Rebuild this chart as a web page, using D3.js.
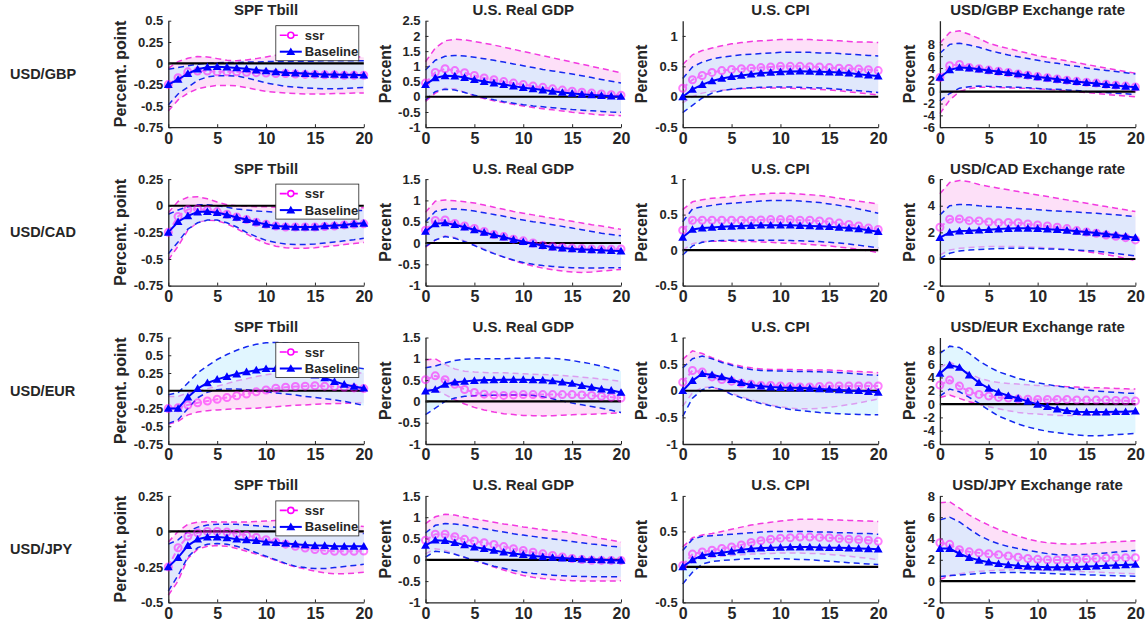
<!DOCTYPE html>
<html>
<head>
<meta charset="utf-8">
<script src="https://cdn.jsdelivr.net/npm/d3@7/dist/d3.min.js"></script>
<style>
  body { margin: 0; background: #fff; }
  svg { display: block; }
  text { font-family: "Liberation Sans", Arial, Helvetica, sans-serif; font-weight: bold; fill: #262626; }
</style>
</head>
<body>
<svg id="chart" width="1146" height="628"></svg>
<script>
// Impulse-response horizons (quarters)
const horizons = [0,1,2,3,4,5,6,7,8,9,10,11,12,13,14,15,16,17,18,19,20];
const xTicks = [0,5,10,15,20];

const rowNames = ["USD/GBP", "USD/CAD", "USD/EUR", "USD/JPY"];
const varTitles = ["SPF Tbill", "U.S. Real GDP", "U.S. CPI", "Exchange rate"];
const yLabels = ["Percent. point", "Percent", "Percent", "Percent"];
const legendNames = ["ssr", "Baseline"];

// y-axis limits and ticks, one row per currency pair
const yLimits = [
  [[-0.75, 0.5], [-1, 2.5], [-0.5, 1.25], [-6, 12]],
  [[-0.75, 0.25], [-1, 1.5], [-0.5, 1], [-2, 6]],
  [[-0.75, 0.75], [-1, 1.5], [-1, 1], [-6, 10]],
  [[-0.5, 0.25], [-1, 1.5], [-0.5, 1], [-2, 8]]
];
const yTickValues = [
  [[-0.75,-0.5,-0.25,0,0.25,0.5], [-1,-0.5,0,0.5,1,1.5,2,2.5], [-0.5,0,0.5,1], [-6,-4,-2,0,2,4,6,8]],
  [[-0.75,-0.5,-0.25,0,0.25], [-1,-0.5,0,0.5,1,1.5], [-0.5,0,0.5,1], [-2,0,2,4,6]],
  [[-0.75,-0.5,-0.25,0,0.25,0.5,0.75], [-1,-0.5,0,0.5,1,1.5], [-1,-0.5,0,0.5,1], [-6,-4,-2,0,2,4,6,8]],
  [[-0.5,-0.25,0,0.25], [-1,-0.5,0,0.5,1,1.5], [-0.5,0,0.5,1], [-2,0,2,4,6,8]]
];

// ---------- USD/GBP ----------
const gbpTbillSsr    = [-0.25,-0.17,-0.10,-0.09,-0.09,-0.10,-0.10,-0.10,-0.105,-0.11,-0.115,-0.12,-0.12,-0.125,-0.13,-0.13,-0.135,-0.135,-0.14,-0.14,-0.14];
const gbpTbillSsrLo  = [-0.56,-0.43,-0.35,-0.3,-0.275,-0.26,-0.26,-0.265,-0.285,-0.31,-0.33,-0.34,-0.35,-0.355,-0.36,-0.36,-0.36,-0.355,-0.355,-0.35,-0.35];
const gbpTbillSsrHi  = [-0.06,0.02,0.06,0.08,0.075,0.055,0.035,0.03,0.04,0.055,0.075,0.095,0.115,0.125,0.13,0.125,0.12,0.11,0.095,0.08,0.07];
const gbpTbillBase   = [-0.25,-0.19,-0.12,-0.07,-0.045,-0.04,-0.045,-0.055,-0.065,-0.08,-0.09,-0.10,-0.11,-0.115,-0.12,-0.125,-0.13,-0.13,-0.135,-0.135,-0.14];
const gbpTbillBaseLo = [-0.49,-0.36,-0.28,-0.2,-0.16,-0.145,-0.145,-0.15,-0.17,-0.2,-0.23,-0.25,-0.27,-0.28,-0.29,-0.295,-0.3,-0.3,-0.295,-0.29,-0.285];
const gbpTbillBaseHi = [-0.07,-0.05,-0.03,-0.01,0.0,0.005,0.01,0.01,0.015,0.015,0.02,0.02,0.02,0.025,0.025,0.025,0.03,0.03,0.03,0.03,0.03];

const gbpGdpSsr    = [0.45,0.8,0.92,0.86,0.79,0.7,0.62,0.56,0.5,0.45,0.4,0.35,0.31,0.26,0.22,0.18,0.15,0.12,0.09,0.07,0.05];
const gbpGdpSsrLo  = [-0.15,0.12,0.28,0.26,0.15,0.03,-0.06,-0.13,-0.19,-0.25,-0.3,-0.35,-0.39,-0.43,-0.47,-0.51,-0.54,-0.57,-0.6,-0.61,-0.62];
const gbpGdpSsrHi  = [1.15,1.6,1.84,1.89,1.87,1.82,1.76,1.7,1.63,1.56,1.49,1.42,1.35,1.28,1.21,1.14,1.07,1.0,0.93,0.86,0.79];
const gbpGdpBase   = [0.4,0.62,0.69,0.68,0.63,0.56,0.5,0.45,0.4,0.35,0.3,0.26,0.22,0.18,0.14,0.11,0.08,0.06,0.04,0.02,0.01];
const gbpGdpBaseLo = [-0.1,0.17,0.25,0.22,0.14,0.05,-0.03,-0.1,-0.16,-0.21,-0.26,-0.3,-0.33,-0.36,-0.39,-0.42,-0.44,-0.46,-0.48,-0.5,-0.51];
const gbpGdpBaseHi = [0.88,1.2,1.33,1.36,1.34,1.3,1.25,1.2,1.14,1.08,1.02,0.96,0.9,0.85,0.8,0.75,0.69,0.63,0.57,0.51,0.45];

const gbpCpiSsr    = [0.14,0.28,0.35,0.4,0.43,0.45,0.46,0.47,0.48,0.49,0.5,0.5,0.5,0.495,0.49,0.48,0.47,0.465,0.455,0.445,0.43];
const gbpCpiSsrLo  = [-0.1,0.0,0.06,0.09,0.11,0.125,0.135,0.14,0.145,0.145,0.145,0.14,0.135,0.13,0.12,0.11,0.1,0.08,0.065,0.05,0.03];
const gbpCpiSsrHi  = [0.53,0.69,0.76,0.8,0.84,0.87,0.89,0.91,0.92,0.93,0.94,0.94,0.94,0.94,0.93,0.93,0.92,0.91,0.9,0.9,0.89];
const gbpCpiBase   = [0,0.12,0.2,0.26,0.3,0.33,0.35,0.37,0.39,0.4,0.41,0.415,0.42,0.415,0.41,0.405,0.4,0.39,0.37,0.355,0.34];
const gbpCpiBaseLo = [-0.26,-0.14,-0.02,0.06,0.1,0.125,0.14,0.15,0.155,0.16,0.16,0.16,0.155,0.15,0.145,0.135,0.125,0.11,0.1,0.085,0.07];
const gbpCpiBaseHi = [0.3,0.49,0.57,0.62,0.65,0.67,0.69,0.7,0.71,0.72,0.73,0.73,0.73,0.73,0.72,0.72,0.71,0.7,0.69,0.68,0.67];

const gbpFxSsr    = [2.4,4.4,4.6,4.1,3.9,3.65,3.45,3.25,3.0,2.8,2.55,2.35,2.15,1.95,1.75,1.6,1.45,1.25,1.1,0.95,0.8];
const gbpFxSsrLo  = [-3.7,-1.4,0.0,0.55,0.75,0.75,0.7,0.65,0.6,0.55,0.5,0.4,0.3,0.15,0.0,-0.15,-0.3,-0.45,-0.6,-0.75,-0.85];
const gbpFxSsrHi  = [8.2,10.0,10.3,9.7,9.0,8.2,7.7,7.3,6.9,6.5,6.1,5.8,5.5,5.2,4.9,4.6,4.3,4.0,3.7,3.4,3.1];
const gbpFxBase   = [2.4,3.7,4.1,4.0,3.8,3.6,3.4,3.2,3.0,2.75,2.5,2.3,2.1,1.9,1.7,1.55,1.4,1.2,1.05,0.9,0.75];
const gbpFxBaseLo = [-1.6,-0.3,0.6,0.85,0.95,0.9,0.85,0.8,0.75,0.65,0.55,0.45,0.4,0.3,0.2,0.05,-0.05,-0.15,-0.25,-0.35,-0.45];
const gbpFxBaseHi = [6.5,8.0,8.2,7.9,7.5,7.0,6.6,6.2,5.9,5.6,5.3,5.0,4.8,4.5,4.3,4.0,3.8,3.6,3.4,3.2,3.0];

// ---------- USD/CAD ----------
const cadTbillSsr    = [-0.25,-0.1,-0.035,-0.03,-0.04,-0.055,-0.08,-0.105,-0.13,-0.155,-0.175,-0.19,-0.2,-0.2,-0.2,-0.2,-0.195,-0.19,-0.18,-0.175,-0.17];
const cadTbillSsrLo  = [-0.51,-0.38,-0.23,-0.155,-0.135,-0.14,-0.17,-0.215,-0.265,-0.315,-0.355,-0.38,-0.395,-0.4,-0.4,-0.395,-0.385,-0.375,-0.365,-0.355,-0.345];
const cadTbillSsrHi  = [-0.065,0.04,0.08,0.085,0.065,0.035,0.01,0.0,-0.005,-0.01,-0.01,-0.015,-0.015,-0.015,-0.015,-0.015,-0.015,-0.015,-0.02,-0.02,-0.02];
const cadTbillBase   = [-0.25,-0.15,-0.095,-0.06,-0.055,-0.065,-0.085,-0.11,-0.13,-0.155,-0.175,-0.19,-0.195,-0.2,-0.2,-0.2,-0.19,-0.185,-0.18,-0.17,-0.165];
const cadTbillBaseLo = [-0.45,-0.34,-0.22,-0.16,-0.135,-0.135,-0.16,-0.2,-0.25,-0.29,-0.325,-0.345,-0.36,-0.365,-0.365,-0.36,-0.35,-0.34,-0.33,-0.32,-0.305];
const cadTbillBaseHi = [-0.08,-0.04,-0.01,0.01,0.01,0.0,-0.015,-0.03,-0.04,-0.05,-0.055,-0.06,-0.06,-0.06,-0.06,-0.055,-0.055,-0.05,-0.05,-0.045,-0.045];

const cadGdpSsr    = [0.3,0.53,0.54,0.46,0.4,0.34,0.27,0.2,0.15,0.09,0.05,0.0,-0.05,-0.08,-0.1,-0.12,-0.13,-0.14,-0.145,-0.145,-0.14];
const cadGdpSsrLo  = [-0.1,0.07,0.17,0.13,0.05,-0.04,-0.14,-0.24,-0.33,-0.41,-0.48,-0.54,-0.59,-0.63,-0.66,-0.68,-0.69,-0.68,-0.66,-0.64,-0.62];
const cadGdpSsrHi  = [0.72,0.98,1.01,0.99,0.97,0.94,0.89,0.84,0.79,0.74,0.7,0.66,0.62,0.58,0.55,0.51,0.47,0.43,0.4,0.36,0.32];
const cadGdpBase   = [0.27,0.45,0.47,0.43,0.37,0.31,0.25,0.19,0.14,0.08,0.03,-0.02,-0.06,-0.1,-0.12,-0.14,-0.15,-0.16,-0.17,-0.18,-0.19];
const cadGdpBaseLo = [-0.08,0.07,0.15,0.11,0.03,-0.06,-0.16,-0.25,-0.33,-0.4,-0.46,-0.5,-0.53,-0.55,-0.57,-0.58,-0.585,-0.585,-0.585,-0.58,-0.58];
const cadGdpBaseHi = [0.5,0.74,0.79,0.8,0.78,0.75,0.71,0.67,0.63,0.58,0.54,0.5,0.47,0.43,0.39,0.35,0.31,0.27,0.23,0.2,0.17];

const cadCpiSsr    = [0.28,0.42,0.42,0.42,0.42,0.42,0.42,0.42,0.425,0.43,0.43,0.43,0.42,0.42,0.41,0.4,0.38,0.36,0.34,0.31,0.29];
const cadCpiSsrLo  = [0.0,0.09,0.12,0.125,0.125,0.125,0.12,0.12,0.115,0.11,0.1,0.095,0.09,0.08,0.07,0.06,0.04,0.03,0.01,-0.01,-0.035];
const cadCpiSsrHi  = [0.57,0.68,0.71,0.73,0.74,0.75,0.77,0.78,0.79,0.8,0.8,0.8,0.79,0.78,0.77,0.75,0.73,0.71,0.69,0.67,0.65];
const cadCpiBase   = [0.18,0.29,0.31,0.32,0.33,0.335,0.34,0.345,0.35,0.35,0.35,0.35,0.345,0.34,0.335,0.33,0.32,0.31,0.3,0.28,0.26];
const cadCpiBaseLo = [-0.07,0.06,0.11,0.13,0.135,0.14,0.14,0.14,0.14,0.14,0.14,0.135,0.13,0.125,0.12,0.11,0.1,0.085,0.07,0.05,0.03];
const cadCpiBaseHi = [0.4,0.58,0.61,0.63,0.65,0.66,0.67,0.68,0.69,0.7,0.7,0.7,0.69,0.68,0.67,0.65,0.63,0.61,0.58,0.55,0.52];

const cadFxSsr    = [2.38,2.98,3.0,2.88,2.86,2.78,2.73,2.74,2.72,2.63,2.55,2.48,2.38,2.28,2.13,2.03,1.93,1.8,1.7,1.6,1.43];
const cadFxSsrLo  = [0.3,0.68,0.8,0.86,0.9,0.93,0.94,0.94,0.93,0.91,0.88,0.84,0.8,0.74,0.65,0.55,0.45,0.33,0.2,0.05,-0.12];
const cadFxSsrHi  = [4.9,5.75,5.9,5.8,5.6,5.45,5.32,5.2,5.07,4.94,4.81,4.69,4.56,4.44,4.31,4.19,4.06,3.94,3.81,3.69,3.56];
const cadFxBase   = [1.6,2.0,2.1,2.12,2.16,2.2,2.25,2.28,2.3,2.3,2.28,2.24,2.2,2.15,2.08,2.02,1.95,1.88,1.8,1.7,1.6];
const cadFxBaseLo = [0.05,0.43,0.6,0.67,0.72,0.75,0.78,0.8,0.8,0.8,0.78,0.76,0.74,0.71,0.67,0.63,0.58,0.5,0.42,0.33,0.23];
const cadFxBaseHi = [3.3,4.0,4.1,4.07,4.0,3.95,3.9,3.85,3.8,3.75,3.7,3.65,3.6,3.56,3.52,3.48,3.43,3.38,3.32,3.25,3.18];

// ---------- USD/EUR ----------
const eurTbillSsr    = [-0.25,-0.24,-0.2,-0.17,-0.145,-0.12,-0.095,-0.07,-0.045,-0.015,0.01,0.035,0.05,0.06,0.065,0.07,0.065,0.06,0.05,0.04,0.03];
const eurTbillSsrLo  = [-0.47,-0.43,-0.34,-0.3,-0.28,-0.27,-0.262,-0.255,-0.25,-0.245,-0.235,-0.225,-0.215,-0.205,-0.2,-0.19,-0.185,-0.18,-0.177,-0.173,-0.17];
const eurTbillSsrHi  = [-0.08,-0.08,-0.03,0.0,0.03,0.065,0.1,0.14,0.17,0.2,0.225,0.245,0.255,0.265,0.27,0.27,0.27,0.265,0.26,0.255,0.25];
const eurTbillBase   = [-0.25,-0.25,-0.09,0.03,0.11,0.16,0.2,0.235,0.265,0.29,0.31,0.31,0.3,0.28,0.25,0.22,0.18,0.13,0.09,0.06,0.035];
const eurTbillBaseLo = [-0.46,-0.41,-0.25,-0.1,-0.02,0.015,0.025,0.025,0.015,0.0,-0.015,-0.03,-0.045,-0.06,-0.08,-0.095,-0.11,-0.13,-0.15,-0.175,-0.21];
const eurTbillBaseHi = [-0.055,-0.03,0.11,0.25,0.35,0.44,0.51,0.57,0.62,0.655,0.675,0.68,0.675,0.65,0.61,0.56,0.5,0.43,0.37,0.33,0.31];

const eurGdpSsr    = [0.51,0.6,0.51,0.4,0.28,0.21,0.17,0.15,0.14,0.15,0.16,0.16,0.16,0.16,0.16,0.16,0.15,0.14,0.12,0.1,0.08];
const eurGdpSsrLo  = [0.28,0.28,0.16,0.04,-0.06,-0.14,-0.2,-0.25,-0.29,-0.31,-0.33,-0.335,-0.34,-0.335,-0.325,-0.315,-0.305,-0.3,-0.29,-0.28,-0.27];
const eurGdpSsrHi  = [0.97,1.0,0.87,0.76,0.71,0.69,0.68,0.67,0.67,0.66,0.65,0.64,0.63,0.62,0.61,0.59,0.57,0.55,0.52,0.5,0.47];
const eurGdpBase   = [0.24,0.28,0.4,0.45,0.47,0.49,0.5,0.505,0.51,0.51,0.51,0.505,0.5,0.48,0.45,0.42,0.37,0.33,0.29,0.26,0.21];
const eurGdpBaseLo = [-0.31,-0.16,0.0,0.08,0.12,0.135,0.14,0.145,0.15,0.15,0.15,0.14,0.11,0.06,0.01,-0.04,-0.08,-0.12,-0.16,-0.21,-0.26];
const eurGdpBaseHi = [0.79,0.83,0.9,0.96,0.99,1.0,1.0,1.0,1.0,1.01,1.01,1.02,1.02,1.01,0.99,0.96,0.92,0.88,0.83,0.77,0.71];

const eurCpiSsr    = [0.16,0.38,0.35,0.26,0.21,0.18,0.14,0.12,0.1,0.1,0.09,0.08,0.07,0.07,0.08,0.09,0.09,0.09,0.09,0.09,0.09];
const eurCpiSsrLo  = [-0.29,-0.04,0.06,0.07,0.02,-0.05,-0.11,-0.17,-0.22,-0.27,-0.3,-0.325,-0.34,-0.34,-0.33,-0.31,-0.29,-0.26,-0.23,-0.19,-0.155];
const eurCpiSsrHi  = [0.59,0.75,0.7,0.62,0.55,0.5,0.46,0.43,0.41,0.4,0.4,0.4,0.395,0.39,0.39,0.39,0.38,0.37,0.36,0.35,0.34];
const eurCpiBase   = [0.0,0.19,0.32,0.3,0.26,0.21,0.15,0.11,0.085,0.07,0.06,0.055,0.05,0.045,0.035,0.025,0.015,0.005,0.0,-0.015,-0.03];
const eurCpiBaseLo = [-0.48,-0.14,0.02,0.07,0.02,-0.07,-0.13,-0.19,-0.24,-0.28,-0.32,-0.35,-0.37,-0.39,-0.41,-0.42,-0.43,-0.44,-0.445,-0.45,-0.45];
const eurCpiBaseHi = [0.43,0.6,0.65,0.6,0.53,0.48,0.43,0.4,0.38,0.375,0.37,0.365,0.36,0.36,0.355,0.35,0.34,0.33,0.315,0.3,0.29];

const eurFxSsr    = [2.85,3.6,2.7,1.85,1.45,1.2,1.0,0.9,0.75,0.72,0.7,0.7,0.7,0.7,0.62,0.6,0.6,0.6,0.55,0.5,0.45];
const eurFxSsrLo  = [1.0,1.35,0.85,0.35,0.0,-0.4,-0.7,-1.0,-1.25,-1.4,-1.5,-1.6,-1.7,-1.72,-1.7,-1.65,-1.6,-1.5,-1.4,-1.3,-1.15];
const eurFxSsrHi  = [5.5,6.3,5.6,4.6,3.9,3.5,3.25,3.1,3.0,2.9,2.8,2.75,2.7,2.6,2.55,2.5,2.45,2.4,2.35,2.3,2.25];
const eurFxBase   = [4.6,5.85,5.5,4.35,3.2,2.35,1.75,1.25,0.85,0.4,-0.05,-0.4,-0.75,-1.0,-1.15,-1.2,-1.2,-1.2,-1.15,-1.15,-1.05];
const eurFxBaseLo = [1.2,2.25,1.85,1.0,0.1,-0.9,-1.8,-2.4,-3.0,-3.45,-3.8,-4.1,-4.3,-4.5,-4.65,-4.75,-4.75,-4.7,-4.6,-4.5,-4.4];
const eurFxBaseHi = [7.6,8.7,8.5,7.6,6.5,5.6,4.85,4.35,3.85,3.5,3.2,2.95,2.7,2.5,2.3,2.1,1.95,1.85,1.75,1.65,1.6];

// ---------- USD/JPY ----------
const jpyTbillSsr    = [-0.25,-0.115,-0.035,-0.01,0.0,0.0,-0.005,-0.015,-0.027,-0.043,-0.058,-0.075,-0.09,-0.105,-0.117,-0.128,-0.135,-0.14,-0.14,-0.14,-0.138];
const jpyTbillSsrLo  = [-0.45,-0.35,-0.19,-0.125,-0.105,-0.1,-0.105,-0.12,-0.14,-0.16,-0.18,-0.205,-0.23,-0.25,-0.265,-0.28,-0.292,-0.298,-0.298,-0.294,-0.287];
const jpyTbillSsrHi  = [-0.075,0.0,0.05,0.065,0.068,0.067,0.066,0.066,0.067,0.07,0.073,0.077,0.078,0.075,0.07,0.065,0.058,0.052,0.046,0.04,0.035];
const jpyTbillBase   = [-0.25,-0.185,-0.1,-0.055,-0.04,-0.04,-0.045,-0.055,-0.06,-0.065,-0.075,-0.08,-0.085,-0.09,-0.095,-0.1,-0.1,-0.105,-0.105,-0.105,-0.105];
const jpyTbillBaseLo = [-0.42,-0.31,-0.18,-0.115,-0.09,-0.085,-0.09,-0.105,-0.125,-0.15,-0.175,-0.2,-0.225,-0.245,-0.255,-0.262,-0.262,-0.255,-0.247,-0.24,-0.232];
const jpyTbillBaseHi = [-0.09,-0.06,0.0,0.03,0.045,0.05,0.05,0.05,0.045,0.04,0.035,0.03,0.025,0.02,0.015,0.01,0.005,0.0,-0.005,-0.01,-0.015];

const jpyGdpSsr    = [0.46,0.6,0.6,0.54,0.48,0.44,0.4,0.36,0.31,0.26,0.22,0.18,0.14,0.1,0.065,0.03,0.005,-0.01,-0.015,-0.015,-0.015];
const jpyGdpSsrLo  = [0.14,0.26,0.22,0.14,0.06,-0.015,-0.09,-0.17,-0.24,-0.31,-0.37,-0.41,-0.44,-0.46,-0.48,-0.49,-0.5,-0.5,-0.5,-0.5,-0.49];
const jpyGdpSsrHi  = [0.85,1.01,1.07,1.05,1.0,0.96,0.92,0.88,0.84,0.81,0.77,0.74,0.71,0.68,0.66,0.63,0.59,0.55,0.5,0.46,0.42];
const jpyGdpBase   = [0.34,0.46,0.45,0.4,0.35,0.3,0.26,0.22,0.18,0.15,0.12,0.09,0.07,0.055,0.04,0.025,0.015,0.005,0.0,-0.01,-0.015];
const jpyGdpBaseLo = [0.065,0.2,0.18,0.13,0.06,-0.015,-0.08,-0.15,-0.2,-0.25,-0.29,-0.32,-0.34,-0.36,-0.375,-0.385,-0.39,-0.395,-0.4,-0.4,-0.4];
const jpyGdpBaseHi = [0.63,0.81,0.85,0.84,0.81,0.77,0.73,0.69,0.65,0.61,0.58,0.55,0.52,0.49,0.46,0.43,0.4,0.37,0.35,0.32,0.3];

const jpyCpiSsr    = [0.02,0.18,0.21,0.235,0.26,0.28,0.31,0.345,0.37,0.39,0.405,0.41,0.42,0.42,0.415,0.41,0.4,0.39,0.385,0.375,0.36];
const jpyCpiSsrLo  = [-0.03,0.07,0.115,0.135,0.15,0.16,0.17,0.18,0.185,0.19,0.195,0.195,0.195,0.19,0.185,0.175,0.165,0.15,0.135,0.12,0.1];
const jpyCpiSsrHi  = [0.28,0.41,0.45,0.47,0.5,0.53,0.56,0.59,0.61,0.63,0.645,0.66,0.67,0.67,0.67,0.665,0.66,0.655,0.65,0.645,0.64];
const jpyCpiBase   = [0.0,0.1,0.16,0.185,0.2,0.22,0.24,0.255,0.265,0.27,0.275,0.28,0.28,0.28,0.275,0.27,0.27,0.265,0.26,0.255,0.25];
const jpyCpiBaseLo = [-0.24,-0.075,0.04,0.075,0.09,0.1,0.11,0.115,0.115,0.115,0.115,0.11,0.105,0.1,0.09,0.08,0.07,0.06,0.05,0.04,0.035];
const jpyCpiBaseHi = [0.23,0.39,0.43,0.44,0.45,0.46,0.47,0.48,0.49,0.5,0.5,0.5,0.5,0.5,0.49,0.49,0.48,0.48,0.47,0.47,0.46];

const jpyFxSsr    = [3.6,3.45,2.95,2.75,2.65,2.57,2.48,2.36,2.25,2.12,2.04,2.0,1.98,2.0,2.03,2.07,2.12,2.16,2.2,2.2,2.2];
const jpyFxSsrLo  = [0.15,0.5,0.7,0.82,0.92,0.98,1.02,1.05,1.06,1.05,1.02,0.99,0.96,0.93,0.9,0.87,0.84,0.8,0.76,0.72,0.68];
const jpyFxSsrHi  = [7.35,7.45,6.85,6.2,5.7,5.25,4.85,4.52,4.22,3.95,3.74,3.6,3.52,3.48,3.48,3.52,3.58,3.64,3.7,3.74,3.78];
const jpyFxBase   = [3.05,3.05,2.57,2.2,1.95,1.78,1.63,1.53,1.45,1.38,1.34,1.31,1.3,1.3,1.33,1.36,1.4,1.44,1.48,1.52,1.56];
const jpyFxBaseLo = [0.43,0.52,0.58,0.65,0.72,0.77,0.8,0.81,0.81,0.79,0.76,0.72,0.68,0.65,0.62,0.59,0.56,0.53,0.5,0.48,0.46];
const jpyFxBaseHi = [5.75,6.0,5.55,4.9,4.3,3.85,3.5,3.25,3.05,2.88,2.73,2.58,2.48,2.45,2.47,2.51,2.58,2.65,2.73,2.8,2.88];

// Series per panel: [ssr, ssr lower, ssr upper, baseline, baseline lower, baseline upper]
const panelSeries = [
  [[gbpTbillSsr,gbpTbillSsrLo,gbpTbillSsrHi,gbpTbillBase,gbpTbillBaseLo,gbpTbillBaseHi],
   [gbpGdpSsr,gbpGdpSsrLo,gbpGdpSsrHi,gbpGdpBase,gbpGdpBaseLo,gbpGdpBaseHi],
   [gbpCpiSsr,gbpCpiSsrLo,gbpCpiSsrHi,gbpCpiBase,gbpCpiBaseLo,gbpCpiBaseHi],
   [gbpFxSsr,gbpFxSsrLo,gbpFxSsrHi,gbpFxBase,gbpFxBaseLo,gbpFxBaseHi]],
  [[cadTbillSsr,cadTbillSsrLo,cadTbillSsrHi,cadTbillBase,cadTbillBaseLo,cadTbillBaseHi],
   [cadGdpSsr,cadGdpSsrLo,cadGdpSsrHi,cadGdpBase,cadGdpBaseLo,cadGdpBaseHi],
   [cadCpiSsr,cadCpiSsrLo,cadCpiSsrHi,cadCpiBase,cadCpiBaseLo,cadCpiBaseHi],
   [cadFxSsr,cadFxSsrLo,cadFxSsrHi,cadFxBase,cadFxBaseLo,cadFxBaseHi]],
  [[eurTbillSsr,eurTbillSsrLo,eurTbillSsrHi,eurTbillBase,eurTbillBaseLo,eurTbillBaseHi],
   [eurGdpSsr,eurGdpSsrLo,eurGdpSsrHi,eurGdpBase,eurGdpBaseLo,eurGdpBaseHi],
   [eurCpiSsr,eurCpiSsrLo,eurCpiSsrHi,eurCpiBase,eurCpiBaseLo,eurCpiBaseHi],
   [eurFxSsr,eurFxSsrLo,eurFxSsrHi,eurFxBase,eurFxBaseLo,eurFxBaseHi]],
  [[jpyTbillSsr,jpyTbillSsrLo,jpyTbillSsrHi,jpyTbillBase,jpyTbillBaseLo,jpyTbillBaseHi],
   [jpyGdpSsr,jpyGdpSsrLo,jpyGdpSsrHi,jpyGdpBase,jpyGdpBaseLo,jpyGdpBaseHi],
   [jpyCpiSsr,jpyCpiSsrLo,jpyCpiSsrHi,jpyCpiBase,jpyCpiBaseLo,jpyCpiBaseHi],
   [jpyFxSsr,jpyFxSsrLo,jpyFxSsrHi,jpyFxBase,jpyFxBaseLo,jpyFxBaseHi]]
];

// ---------- layout & style ----------
const colLeft0 = 168.3, colStep = 257.2, plotW = 195.5;
const rowTop0 = 20.7, rowStep = 158.4, plotH = 106.5;
const yLabelOffset = [48, 40, 41, 30];

const C = {
  ssr: "#ff00ff",
  ssrBand: "#f23ae0",
  ssrFill: "#fde0f8",
  base: "#0000ff",
  baseBand: "#1428f0",
  baseFill: "rgb(200,239,255)",
  axis: "#262626"
};

const svg = d3.select("#chart");

panelSeries.forEach((rowSeries, r) => {
  const top = rowTop0 + r * rowStep;

  svg.append("text")
    .attr("x", 10).attr("y", top + plotH / 2)
    .attr("dominant-baseline", "central")
    .style("font-size", "14.5px")
    .text(rowNames[r]);

  rowSeries.forEach((series, c) => {
    const left = colLeft0 + c * colStep;
    const [ssr, ssrLo, ssrHi, base, baseLo, baseHi] = series;

    const x = d3.scaleLinear().domain([0, 20]).range([left, left + plotW]);
    const y = d3.scaleLinear().domain(yLimits[r][c]).range([top + plotH, top]);

    const g = svg.append("g");

    const band = (lo, hi) => d3.area()
      .x((d, i) => x(horizons[i]))
      .y0((d, i) => y(lo[i]))
      .y1((d, i) => y(hi[i]))(horizons);
    const line = d3.line().x((d, i) => x(horizons[i])).y(d => y(d));

    // ssr band
    g.append("path").attr("d", band(ssrLo, ssrHi)).attr("fill", C.ssrFill);
    [ssrLo, ssrHi].forEach(s => g.append("path").attr("d", line(s))
      .attr("fill", "none").attr("stroke", C.ssrBand).attr("stroke-width", 1.5)
      .attr("stroke-dasharray", "6,4"));

    // baseline band (translucent, on top)
    g.append("path").attr("d", band(baseLo, baseHi))
      .attr("fill", C.baseFill).attr("fill-opacity", 0.55);
    [baseLo, baseHi].forEach(s => g.append("path").attr("d", line(s))
      .attr("fill", "none").attr("stroke", C.baseBand).attr("stroke-width", 1.5)
      .attr("stroke-dasharray", "6,4"));

    // zero line
    g.append("line")
      .attr("x1", x(0)).attr("x2", x(20))
      .attr("y1", y(0)).attr("y2", y(0))
      .attr("stroke", "#000").attr("stroke-width", 2.2);

    // axes
    const ya = d3.axisLeft(y).tickValues(yTickValues[r][c]).tickFormat(d => String(d))
      .tickSize(-3).tickSizeOuter(0).tickPadding(5);
    const xa = d3.axisBottom(x).tickValues(xTicks).tickFormat(d => String(d))
      .tickSize(-3).tickSizeOuter(0).tickPadding(5);
    const yg = g.append("g").attr("transform", `translate(${left},0)`).call(ya);
    const xg = g.append("g").attr("transform", `translate(0,${top + plotH})`).call(xa);
    [yg, xg].forEach(ax => {
      ax.select(".domain").attr("stroke", C.axis).attr("stroke-width", 1.3);
      ax.selectAll(".tick line").attr("stroke", C.axis).attr("stroke-width", 1);
      ax.selectAll(".tick text").attr("fill", C.axis)
        .style("font-family", '"Liberation Sans", Arial, sans-serif')
        .style("font-weight", "bold");
    });
    yg.selectAll(".tick text").style("font-size", "13px");
    xg.selectAll(".tick text").style("font-size", "16px");

    // ssr response: dashed line with open circles, translucent
    const sg = g.append("g").attr("opacity", 0.5);
    sg.append("path").attr("d", line(ssr)).attr("fill", "none")
      .attr("stroke", C.ssr).attr("stroke-width", 2).attr("stroke-dasharray", "6,3");
    sg.selectAll("circle").data(ssr).join("circle")
      .attr("cx", (d, i) => x(horizons[i])).attr("cy", d => y(d))
      .attr("r", 3.5).attr("fill", "none").attr("stroke", C.ssr).attr("stroke-width", 2);

    // baseline response: solid line with filled triangles
    g.append("path").attr("d", line(base)).attr("fill", "none")
      .attr("stroke", C.base).attr("stroke-width", 2);
    const tri = d3.symbol(d3.symbolTriangle, 34);
    g.selectAll("path.tri").data(base).join("path").attr("class", "tri")
      .attr("d", tri)
      .attr("transform", (d, i) => `translate(${x(horizons[i])},${y(d) + 0.8})`)
      .attr("fill", C.base);

    // title
    const title = c === 3 ? `${rowNames[r]} ${varTitles[c]}` : varTitles[c];
    g.append("text")
      .attr("x", left + plotW / 2).attr("y", top - 5.5)
      .attr("text-anchor", "middle")
      .style("font-size", "15px")
      .text(title);

    // y label
    g.append("text")
      .attr("transform", `translate(${left - yLabelOffset[c]},${top + plotH / 2}) rotate(-90)`)
      .attr("text-anchor", "middle")
      .attr("dominant-baseline", "central")
      .style("font-size", "16px")
      .text(yLabels[c]);

    // legend in the first column of each row
    if (c === 0) {
      const lw = 83, lh = 35;
      const lx = left + plotW - 5 - lw, ly = top + 5;
      const lg = g.append("g");
      lg.append("rect").attr("x", lx).attr("y", ly).attr("width", lw).attr("height", lh)
        .attr("fill", "#fff").attr("stroke", C.axis).attr("stroke-width", 0.8);
      const r1 = ly + 9.5, r2 = ly + 26;
      lg.append("line").attr("x1", lx + 4).attr("x2", lx + 26).attr("y1", r1).attr("y2", r1)
        .attr("stroke", C.ssr).attr("stroke-width", 1.6).attr("stroke-dasharray", "7,4");
      lg.append("circle").attr("cx", lx + 15).attr("cy", r1).attr("r", 3)
        .attr("fill", "#fff").attr("stroke", C.ssr).attr("stroke-width", 1.6);
      lg.append("line").attr("x1", lx + 4).attr("x2", lx + 26).attr("y1", r2).attr("y2", r2)
        .attr("stroke", C.base).attr("stroke-width", 2);
      lg.append("path").attr("d", tri)
        .attr("transform", `translate(${lx + 15},${r2 + 0.8})`).attr("fill", C.base);
      lg.append("text").attr("x", lx + 29).attr("y", r1).attr("dominant-baseline", "central")
        .style("font-size", "13px").text(legendNames[0]);
      lg.append("text").attr("x", lx + 29).attr("y", r2).attr("dominant-baseline", "central")
        .style("font-size", "13px").text(legendNames[1]);
    }
  });
});
</script>
</body>
</html>
